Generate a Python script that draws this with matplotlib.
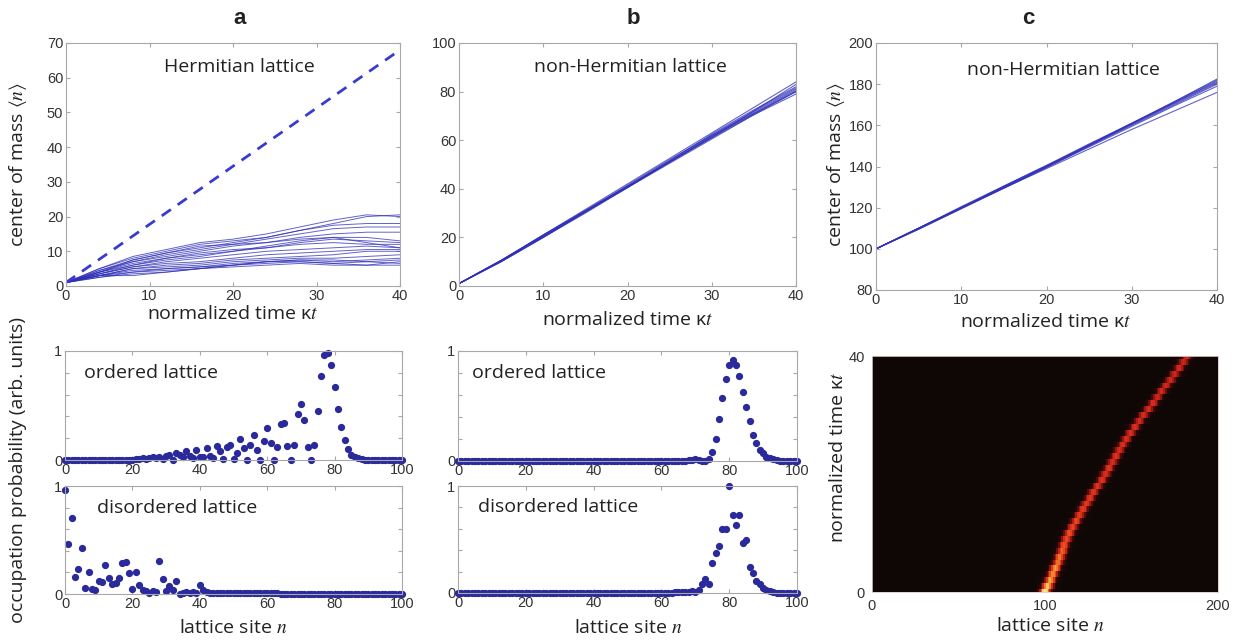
import numpy as np
import matplotlib
matplotlib.use('Agg')
import matplotlib.pyplot as plt
from matplotlib.colors import LinearSegmentedColormap

# --- panel a (top): Hermitian lattice, center of mass vs time ---
t_a = [0, 4, 8, 12, 16, 20, 24, 28, 32, 36, 40]
ballistic_t = [0, 40]
ballistic_n = [1, 68]
herm_traj = [
    [1, 5.0, 8.0, 10.0, 12.0, 13.0, 14.0, 16.0, 18.0, 20.0, 20.5],
    [1, 5.0, 8.5, 10.5, 12.5, 13.5, 15.0, 17.0, 19.0, 20.5, 20.0],
    [1, 4.5, 7.5, 9.5, 11.0, 12.5, 14.0, 16.0, 17.5, 18.0, 18.0],
    [1, 4.5, 7.0, 9.0, 10.5, 12.0, 13.5, 15.0, 16.5, 17.0, 17.0],
    [1, 4.0, 7.0, 8.5, 10.0, 11.5, 12.5, 14.0, 15.0, 15.5, 15.5],
    [1, 4.0, 6.5, 8.0, 9.0, 10.0, 11.5, 13.0, 14.0, 14.0, 13.0],
    [1, 4.0, 6.0, 7.5, 8.5, 10.0, 11.0, 12.5, 13.5, 13.0, 12.5],
    [1, 3.5, 6.0, 8.0, 9.5, 10.5, 11.0, 12.0, 12.5, 12.0, 12.0],
    [1, 3.5, 5.5, 7.0, 8.0, 9.0, 10.0, 10.5, 11.0, 11.5, 11.0],
    [1, 3.5, 5.5, 6.5, 7.0, 8.0, 9.0, 9.5, 10.0, 10.5, 10.5],
    [1, 3.0, 5.0, 6.0, 6.5, 7.5, 8.0, 8.5, 9.0, 10.0, 10.0],
    [1, 3.0, 5.0, 5.5, 6.0, 7.0, 7.5, 8.0, 8.0, 8.5, 9.0],
    [1, 3.0, 4.5, 5.0, 5.5, 6.5, 7.0, 7.5, 7.0, 7.5, 8.0],
    [1, 3.0, 4.0, 5.0, 5.5, 6.0, 7.0, 7.0, 6.5, 7.0, 7.5],
    [1, 2.5, 4.0, 4.5, 5.0, 6.0, 6.5, 7.0, 6.5, 6.0, 7.0],
    [1, 2.5, 3.5, 4.0, 5.0, 5.5, 6.0, 6.5, 6.0, 6.0, 6.0],
    [1, 3.0, 3.0, 4.0, 5.0, 6.0, 7.0, 7.5, 7.5, 7.0, 6.5],
    [1, 4.0, 7.5, 9.5, 11.5, 12.0, 12.5, 13.5, 14.0, 12.5, 11.0],
]

# --- panel b (top): non-Hermitian lattice ---
t_b = [0, 5, 10, 15, 20, 25, 30, 35, 40]
nonherm_b = [
    [1, 10.5, 20.5, 30.5, 41.0, 51.0, 61.0, 70.5, 79.0],
    [1, 10.0, 20.0, 30.0, 40.5, 51.0, 61.5, 71.0, 80.5],
    [1, 10.5, 21.0, 31.0, 41.5, 52.0, 62.0, 71.5, 81.0],
    [1, 10.5, 20.5, 31.0, 41.0, 51.5, 62.5, 72.5, 82.0],
    [1, 10.0, 20.0, 30.5, 40.5, 51.0, 61.0, 72.0, 83.0],
    [1, 10.5, 21.0, 31.5, 42.0, 52.5, 63.0, 73.5, 84.0],
    [1, 10.5, 20.5, 30.5, 40.5, 50.5, 60.5, 70.5, 80.0],
    [1, 10.0, 20.0, 30.5, 41.0, 51.5, 62.0, 72.0, 81.5],
    [1, 10.5, 21.0, 31.0, 41.0, 51.0, 61.5, 71.0, 80.0],
]

# --- panel c (top): non-Hermitian lattice, start at site 100 ---
t_c = [0, 5, 10, 15, 20, 25, 30, 35, 40]
nonherm_c = [
    [100, 110.0, 120.0, 130.0, 140.0, 150.5, 160.5, 171.0, 181.0],
    [100, 110.0, 120.5, 130.5, 140.5, 151.0, 161.0, 171.5, 182.0],
    [100, 109.5, 119.5, 129.5, 139.5, 150.0, 160.0, 170.0, 180.0],
    [100, 110.0, 120.0, 130.0, 140.0, 150.0, 160.5, 170.5, 180.5],
    [100, 110.0, 120.0, 130.5, 140.5, 150.5, 161.0, 171.0, 181.5],
    [100, 109.5, 119.5, 129.5, 139.5, 149.5, 159.5, 169.5, 179.0],
    [100, 110.0, 120.0, 129.5, 139.0, 148.5, 158.0, 167.0, 176.0],
    [100, 110.0, 120.0, 130.0, 140.0, 150.5, 161.0, 171.5, 182.5],
]

# --- occupation probabilities at the final time ---
sites = list(range(101))
ordered_a = ([0.0] * 21 +
             [0.01, 0.01, 0.02, 0.01, 0.02, 0.03, 0.02, 0.03, 0.01, 0.04,
              0.05, 0.0, 0.06, 0.05, 0.03, 0.08, 0.04, 0.02, 0.09, 0.03,
              0.03, 0.11, 0.04, 0.02, 0.13, 0.08, 0.01, 0.12, 0.14, 0.01,
              0.06, 0.19, 0.11, 0.0, 0.14, 0.23, 0.09, 0.0, 0.17, 0.29,
              0.16, 0.0, 0.12, 0.33, 0.34, 0.13, 0.0, 0.14, 0.42, 0.51,
              0.37, 0.12, 0.0, 0.14, 0.45, 0.77, 0.96, 0.98, 0.87, 0.67,
              0.47, 0.30, 0.18, 0.10, 0.05, 0.03, 0.015, 0.008] +
             [0.0] * 12)
disordered_a = ([0.96, 0.46, 0.70, 0.16, 0.23, 0.43, 0.06, 0.20, 0.05, 0.04,
                 0.12, 0.11, 0.27, 0.15, 0.09, 0.10, 0.15, 0.29, 0.30, 0.19,
                 0.05, 0.20, 0.08, 0.04, 0.03, 0.01, 0.03, 0.02, 0.31, 0.14,
                 0.03, 0.07, 0.04, 0.12, 0.0, 0.01, 0.02, 0.01, 0.015, 0.01,
                 0.08, 0.04, 0.02, 0.01] +
                [0.005] * 20 + [0.0] * 37)
ordered_b = ([0.0] * 68 +
             [0.01, 0.01, 0.015, 0.01, 0.0, 0.0, 0.02, 0.08, 0.20, 0.38,
              0.57, 0.75, 0.875, 0.915, 0.875, 0.77, 0.63, 0.49, 0.36, 0.24,
              0.16, 0.10, 0.07, 0.04, 0.025, 0.015, 0.01] +
             [0.0] * 6)
disordered_b = ([0.0] * 64 +
                [0.01, 0.01, 0.01, 0.01, 0.01, 0.02, 0.01, 0.03, 0.08, 0.13,
                 0.08, 0.28, 0.37, 0.44, 0.60, 0.60, 1.0, 0.73, 0.64, 0.73,
                 0.47, 0.50, 0.24, 0.19, 0.11, 0.08, 0.05, 0.03, 0.02, 0.01] +
                [0.0] * 7)

# --- panel c (bottom): wavepacket peak position and brightness per time step ---
heat_t = list(range(41))
heat_peak = [100, 101.5, 103, 104.5, 106, 107.5, 108.5, 110, 111, 112.5,
             114, 116, 118, 120, 122, 124, 126, 128, 130.5, 133,
             135, 137, 139, 141, 143, 145, 147, 149.5, 152, 154.5,
             157, 160, 162.5, 165, 167.5, 170, 172.5, 175, 177.5, 180, 182]
heat_amp = [1.0, 0.9, 0.8, 0.75, 0.8, 0.7, 0.72, 0.66, 0.62, 0.6,
            0.62, 0.58, 0.6, 0.56, 0.55, 0.56, 0.54, 0.55, 0.53, 0.52,
            0.52, 0.53, 0.51, 0.52, 0.5, 0.51, 0.5, 0.52, 0.5, 0.49,
            0.5, 0.49, 0.5, 0.48, 0.49, 0.48, 0.48, 0.47, 0.48, 0.47, 0.47]
heat_sites = list(range(201))

W, H = 1240, 642
plt.rcParams['font.family'] = ['Liberation Sans', 'DejaVu Sans']
plt.rcParams['mathtext.fontset'] = 'stix'
LAB = ['Open Sans', 'DejaVu Sans']
LINE = '#2f2fb8'
DOT = '#2a2a9c'
TXT = '#222222'
FS = 14
TICK = 10.5


def rect(x0, y0, x1, y1):
    return [x0 / W, 1 - y1 / H, (x1 - x0) / W, (y1 - y0) / H]


def ftext(x, y, s, **kw):
    fig.text(x / W, 1 - y / H, s, ha='center', va='center', color=TXT, **kw)


def style(ax):
    for s in ax.spines.values():
        s.set_color('#a8a8a8')
        s.set_linewidth(0.8)
    ax.tick_params(direction='in', length=3, color='#a8a8a8', labelcolor='#333333',
                   labelsize=TICK, top=True, right=True, pad=2)


fig = plt.figure(figsize=(W / 100, H / 100), dpi=100)

# top row
axa = fig.add_axes(rect(66, 43, 400, 286))
for tr in herm_traj:
    axa.plot(t_a, tr, color=LINE, lw=0.7, alpha=0.75)
axa.plot(ballistic_t, ballistic_n, color='#3a3ad0', lw=2, dashes=(4, 3))
axa.set_xlim(0, 40)
axa.set_ylim(0, 70)
axa.set_xticks(range(0, 41, 10))
axa.set_yticks(range(0, 71, 10))
axa.text(0.52, 0.9, 'Hermitian lattice', transform=axa.transAxes, ha='center', va='center',
         fontsize=FS, family=LAB, color=TXT)
style(axa)

axb = fig.add_axes(rect(459, 43, 796, 286))
for tr in nonherm_b:
    axb.plot(t_b, tr, color=LINE, lw=0.8, alpha=0.75)
axb.set_xlim(0, 40)
axb.set_ylim(0, 100)
axb.set_xticks(range(0, 41, 10))
axb.set_yticks(range(0, 101, 20))
axb.text(0.51, 0.9, 'non-Hermitian lattice', transform=axb.transAxes, ha='center', va='center',
         fontsize=FS, family=LAB, color=TXT)
style(axb)

axc = fig.add_axes(rect(876, 43, 1217, 290))
for tr in nonherm_c:
    axc.plot(t_c, tr, color=LINE, lw=0.8, alpha=0.75)
axc.set_xlim(0, 40)
axc.set_ylim(80, 200)
axc.set_xticks(range(0, 41, 10))
axc.set_yticks(range(80, 201, 20))
axc.text(0.55, 0.89, 'non-Hermitian lattice', transform=axc.transAxes, ha='center', va='center',
         fontsize=FS, family=LAB, color=TXT)
style(axc)

# occupation panels
occ = [
    (rect(65, 351, 402, 460), ordered_a, 'ordered lattice', 0.055),
    (rect(65, 486, 402, 594), disordered_a, 'disordered lattice', 0.095),
    (rect(458, 351, 797, 461), ordered_b, 'ordered lattice', 0.04),
    (rect(458, 486, 797, 593), disordered_b, 'disordered lattice', 0.06),
]
for r, vals, name, tx in occ:
    ax = fig.add_axes(r)
    ax.plot(sites, vals, 'o', ms=4.2, color=DOT, mec=DOT, clip_on=False)
    ax.set_xlim(0, 100)
    ax.set_ylim(0, 1)
    ax.set_xticks(range(0, 101, 20))
    ax.set_yticks(np.arange(0, 1.01, 0.2))
    ax.set_yticklabels(['0', '', '', '', '', '1'])
    ax.text(tx, 0.8, name, transform=ax.transAxes, ha='left', va='center',
            fontsize=FS, family=LAB, color=TXT)
    style(ax)

# heat map of the wavepacket in panel c
img = np.full((len(heat_t), len(heat_sites)), 0.02)
sx = np.array(heat_sites, dtype=float)
for i in range(len(heat_t)):
    img[i] += heat_amp[i] * np.exp(-0.5 * ((sx - heat_peak[i]) / 2.2) ** 2)
cmap = LinearSegmentedColormap.from_list(
    'fire', ['#0c0707', '#2a0806', '#8c1410', '#d42a1c', '#ec5a1e', '#f6b040', '#fbe8a0'])
axh = fig.add_axes(rect(872, 356, 1218, 592))
axh.imshow(img, origin='lower', aspect='auto', cmap=cmap, vmin=0, vmax=1,
           interpolation='nearest', extent=[-0.5, 200.5, -0.5, 40.5])
axh.set_xlim(0, 200)
axh.set_ylim(0, 40)
axh.set_xticks([0, 100, 200])
axh.set_yticks([0, 40])
for s in axh.spines.values():
    s.set_color('#d8c8c0')
    s.set_linewidth(0.6)
axh.tick_params(length=0, labelcolor='#333333', labelsize=TICK, pad=5)

# panel letters and axis labels
ftext(240, 18, 'a', fontsize=16, fontweight='bold')
ftext(633, 18, 'b', fontsize=16, fontweight='bold')
ftext(1028, 18, 'c', fontsize=16, fontweight='bold')

ftext(18, 165, r'center of mass $\langle n\rangle$', rotation=90, fontsize=FS, family=LAB)
ftext(836, 165, r'center of mass $\langle n\rangle$', rotation=90, fontsize=FS, family=LAB)
ftext(233, 314, r'normalized time κ$t$', fontsize=FS, family=LAB)
ftext(628, 320, r'normalized time κ$t$', fontsize=FS, family=LAB)
ftext(1046, 322, r'normalized time κ$t$', fontsize=FS, family=LAB)
ftext(18, 470, 'occupation probability (arb. units)', rotation=90, fontsize=FS, family=LAB)
ftext(233, 628, r'lattice site $n$', fontsize=FS, family=LAB)
ftext(628, 628, r'lattice site $n$', fontsize=FS, family=LAB)
ftext(1050, 626, r'lattice site $n$', fontsize=FS, family=LAB)
ftext(838, 457, r'normalized time κ$t$', rotation=90, fontsize=FS, family=LAB)

fig.savefig('out.png', dpi=100)
